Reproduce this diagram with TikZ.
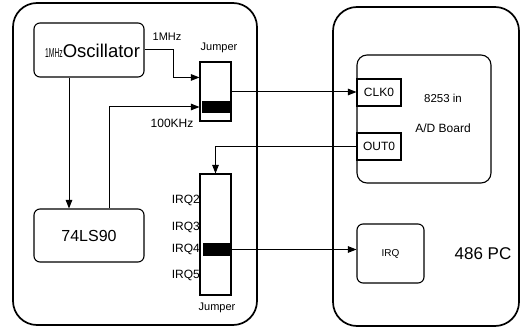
\documentclass[tikz,border=0pt]{standalone}
\usepackage{fontspec}
\setmainfont{Liberation Sans}
\usetikzlibrary{arrows.meta,calc}
\begin{document}
\begin{tikzpicture}[x=1pt,y=-1pt,
  box/.style={draw,line width=1.1pt,inner sep=0pt,fill=white},
  rbox/.style={box,rounded corners=6pt},
  big/.style={draw,line width=1.7pt,rounded corners=24pt,inner sep=0pt},
  arr/.style={line width=1pt,-{Triangle[length=8.5pt,width=6.5pt]}},
  ln/.style={line width=1pt},
  lbl/.style={inner sep=0pt,font=\fontsize{11}{13}\selectfont}]
\useasboundingbox (0,0) rectangle (521,328);
\node[big,minimum width=244pt,minimum height=322pt] (left) at (135,164) {};
\node[big,minimum width=186pt,minimum height=319pt] (right) at (426,166.5) {};
\node[rbox,minimum width=110pt,minimum height=54pt] (osc) at (89,50) {};
\node[anchor=west,inner sep=0pt] (osct) at (45,51) {\fontsize{13}{14}\selectfont\scalebox{0.52}[1]{1MHz}\fontsize{18.5}{20}\selectfont Oscillator};
\node[rbox,minimum width=110pt,minimum height=53pt,font=\fontsize{16}{18}\selectfont] (ls) at (89,235.5) {74LS90};
\node[box,minimum width=31pt,minimum height=59pt] (j1) at (215.5,91.5) {};
\node[box,fill=black,minimum width=27pt,minimum height=10pt] (bar1) at (216.5,107) {};
\node[rbox,rounded corners=10pt,minimum width=134pt,minimum height=128pt] (chip) at (424,119) {};
\node[box,minimum width=44pt,minimum height=27pt,font=\fontsize{12}{14}\selectfont] (clk) at (379,92.5) {CLK0};
\node[box,minimum width=44pt,minimum height=27pt,font=\fontsize{12}{14}\selectfont] (out) at (379,146.5) {OUT0};
\node[lbl,font=\fontsize{11.5}{13}\selectfont] (t8253) at (443,98) {8253 in};
\node[lbl,font=\fontsize{12}{14}\selectfont] (tad) at (443,128) {A/D Board};
\node[box,minimum width=31pt,minimum height=121pt] (j2) at (215.5,234.5) {};
\node[box,fill=black,minimum width=26pt,minimum height=11pt] (bar2) at (217,249.5) {};
\node[rbox,minimum width=67pt,minimum height=59pt,font=\fontsize{10}{12}\selectfont] (irq) at (390.5,253.5) {IRQ};
\node[lbl,font=\fontsize{17}{19}\selectfont] (pc) at (483,254) {486 PC};
\node[lbl] (l1m) at (167,37) {1MHz};
\node[lbl] (lj1) at (219,48) {Jumper};
\node[lbl,font=\fontsize{12}{14}\selectfont] (l100) at (172,123) {100KHz};
\node[lbl,anchor=east,font=\fontsize{12}{14}\selectfont] (q2) at (200,200) {IRQ2};
\node[lbl,anchor=east,font=\fontsize{12}{14}\selectfont] (q3) at (200,227) {IRQ3};
\node[lbl,anchor=east,font=\fontsize{12}{14}\selectfont] (q4) at (200,249) {IRQ4};
\node[lbl,anchor=east,font=\fontsize{12}{14}\selectfont] (q5) at (200,275) {IRQ5};
\node[lbl] (lj2) at (217,308) {Jumper};
\coordinate (k1) at (173,50);
\coordinate (j1a) at ($(j1.north west)+(0,16)$);
\draw[ln,arr] (osc.east) -- (k1) |- (j1a);
\draw[ln,arr] (ls.north -| 109,0) |- (bar1.west -| j1.west);
\draw[ln,arr] (osc.south -| 69,0) -- (ls.north -| 69,0);
\draw[ln,arr] (j1.east |- 0,92) -- (clk.west |- 0,92);
\draw[ln,arr] (out.west) -| (j2.north);
\draw[ln,arr] (bar2.east) -- (bar2.east -| irq.west);
\end{tikzpicture}
\end{document}
